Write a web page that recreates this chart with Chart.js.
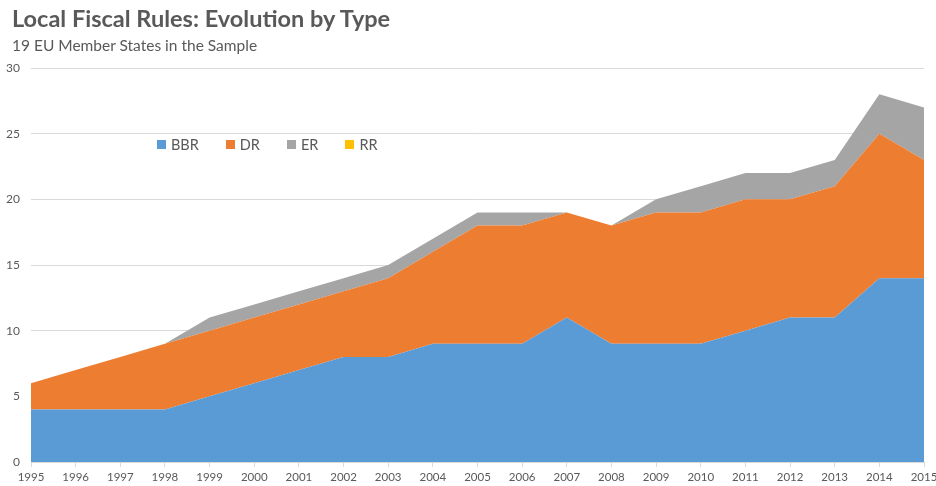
<!DOCTYPE html>
<html>
<head>
<meta charset="utf-8">
<script src="https://cdn.jsdelivr.net/npm/chart.js@4/dist/chart.umd.min.js"></script>
<style>
  html, body { margin: 0; padding: 0; background: #fff; }
  #wrap { position: relative; width: 936px; height: 486px; font-family: Lato, "Open Sans", sans-serif; }
  #title { position: absolute; left: 12px; top: 4px; font-size: 23.5px; font-weight: bold; color: #595959; white-space: nowrap; }
  #subtitle { position: absolute; left: 12px; top: 36px; font-size: 15.5px; color: #595959; white-space: nowrap; }
  #legend { position: absolute; left: 157px; top: 136px; font-size: 14.5px; color: #595959; display: flex; }
  .li { display: flex; align-items: center; margin-right: 27px; }
  .sw { width: 9px; height: 9px; margin-right: 5px; }
  canvas { position: absolute; left: 0; top: 0; }
</style>
</head>
<body>
<div id="wrap">
  <canvas id="c" width="936" height="486"></canvas>
  <div id="title">Local Fiscal Rules: Evolution by Type</div>
  <div id="subtitle">19 EU Member States in the Sample</div>
  <div id="legend"></div>
</div>
<script>
const years = ["1995","1996","1997","1998","1999","2000","2001","2002","2003","2004","2005","2006","2007","2008","2009","2010","2011","2012","2013","2014","2015"];
const BBR = [4,4,4,4,5,6,7,8,8,9,9,9,11,9,9,9,10,11,11,14,14];
const DR  = [2,3,4,5,5,5,5,5,6,7,9,9,8,9,10,10,10,9,10,11,9];
const ER  = [0,0,0,0,1,1,1,1,1,1,1,1,0,0,1,2,2,2,2,3,4];
const RR  = [0,0,0,0,0,0,0,0,0,0,0,0,0,0,0,0,0,0,0,0,0];
const yTicks = [0,5,10,15,20,25,30];

const series = [
  {label: "BBR", data: BBR, color: "#5B9BD5"},
  {label: "DR",  data: DR,  color: "#ED7D31"},
  {label: "ER",  data: ER,  color: "#A5A5A5"},
  {label: "RR",  data: RR,  color: "#FFC000"}
];

const legend = document.getElementById("legend");
series.forEach(s => {
  const d = document.createElement("div");
  d.className = "li";
  d.innerHTML = '<span class="sw" style="background:' + s.color + '"></span>' + s.label;
  legend.appendChild(d);
});

new Chart(document.getElementById("c"), {
  type: "line",
  data: {
    labels: years,
    datasets: series.map((s, i) => ({
      label: s.label,
      data: s.data,
      backgroundColor: s.color,
      borderColor: s.color,
      borderWidth: 0,
      pointRadius: 0,
      tension: 0,
      fill: i === 0 ? "origin" : "-1"
    }))
  },
  options: {
    responsive: false,
    animation: false,
    layout: { padding: { top: 68, right: 12, left: 0, bottom: 0 } },
    plugins: { legend: { display: false }, tooltip: { enabled: false } },
    scales: {
      x: {
        offset: false,
        grid: { display: true, drawOnChartArea: false, drawTicks: true, tickLength: 5, color: "#d9d9d9" },
        border: { color: "#d9d9d9" },
        ticks: { color: "#595959", font: { family: "Lato, 'Open Sans', sans-serif", size: 11.5 }, maxRotation: 0, autoSkip: false, padding: 3 },
        afterFit: s => { s.height = 24; s.paddingRight = 0; s.paddingLeft = 0; }
      },
      y: {
        stacked: true,
        min: 0, max: 30,
        afterBuildTicks: s => { s.ticks = yTicks.map(v => ({value: v})); },
        grid: { color: "#d9d9d9", drawTicks: false },
        border: { display: false },
        ticks: { color: "#595959", font: { family: "Lato, 'Open Sans', sans-serif", size: 12 }, padding: 11 },
        afterFit: s => { s.width = 31; }
      }
    }
  }
});
</script>
</body>
</html>
